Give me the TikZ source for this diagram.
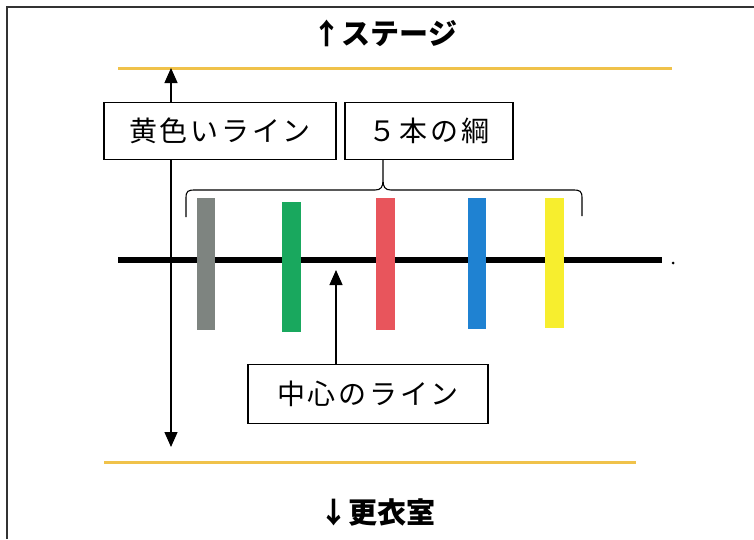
\documentclass[tikz,border=0pt]{standalone}
\usepackage{fontspec}
\setmainfont{Noto Sans CJK JP}
\usetikzlibrary{arrows.meta}
\definecolor{ylw}{HTML}{F0C24A}
\definecolor{bargray}{HTML}{7E8480}
\definecolor{bargreen}{HTML}{19A85E}
\definecolor{barred}{HTML}{E8555C}
\definecolor{barblue}{HTML}{1F82D2}
\definecolor{baryellow}{HTML}{F7EE2E}
\definecolor{frame}{HTML}{333333}
\begin{document}
\begin{tikzpicture}[x=1pt,y=-1pt,
  labelbox/.style={draw=black,line width=1.3pt,fill=white,inner sep=0pt,
    font=\fontsize{28}{32}\selectfont\addfontfeature{LetterSpace=10}},
  title/.style={font=\fontsize{29}{32}\selectfont\bfseries,inner sep=0pt},
  arr/.style={line width=1.3pt},
  yline/.style={ylw,line width=3pt}]
\useasboundingbox (0,0) rectangle (754,539);
% frame
\draw[frame,line width=2pt] (7,539) -- (7,7) -- (754,7);
% titles
\node[title] (stage) at (385,33) {↑ステージ};
\node[title] (room) at (377,512) {↓更衣室};
% yellow lines
\coordinate (y1a) at (118,68); \coordinate (y1b) at (672,68);
\coordinate (y2a) at (104,462); \coordinate (y2b) at (636,462);
\draw[yline] (y1a) -- (y1b);
\draw[yline] (y2a) -- (y2b);
% double arrow
\coordinate (ua) at (171,68); \coordinate (ub) at (171,447);
\draw[arr,{Triangle[width=13pt,length=15pt]}-{Triangle[width=13pt,length=15pt]}] (ua) -- (ub);
% centre line
\coordinate (c1) at (118,260); \coordinate (c2) at (662,260);
\draw[line width=6pt] (c1) -- (c2);
\fill (673,263) circle (1.5pt);
% bars
\fill[bargray]   (197,198) rectangle (215,330);
\fill[bargreen]  (282,202) rectangle (301,332);
\fill[barred]    (376,198) rectangle (395,330);
\fill[barblue]   (468,198) rectangle (486,329);
\fill[baryellow] (545,198) rectangle (564,328);
% boxes
\node[labelbox,minimum width=232pt,minimum height=57pt] (yb) at (220,131) {黄色いライン};
\node[labelbox,minimum width=168pt,minimum height=57pt] (rb) at (429,131) {５本の綱};
\node[labelbox,minimum width=240pt,minimum height=59pt] (cb) at (368,394) {中心のライン};
% centre arrow
\coordinate (ct) at (336,270);
\draw[arr,-{Triangle[width=13pt,length=15pt]}] (ct |- cb.north) -- (ct);
% brace
\coordinate (bl) at (186,217);
\coordinate (br) at (582,216);
\coordinate (bx) at (383,0);
\draw[line width=1.1pt] (bl) -- (186,198) .. controls (186,191) and (188,190) .. (195,190)
  -- (375,190) .. controls (381,190) and (383,187) .. (383,180) -- (bx |- rb.south)
  (383,180) .. controls (383,187) and (385,190) .. (391,190)
  -- (573,190) .. controls (580,190) and (582,191) .. (582,198) -- (br);
\end{tikzpicture}
\end{document}
